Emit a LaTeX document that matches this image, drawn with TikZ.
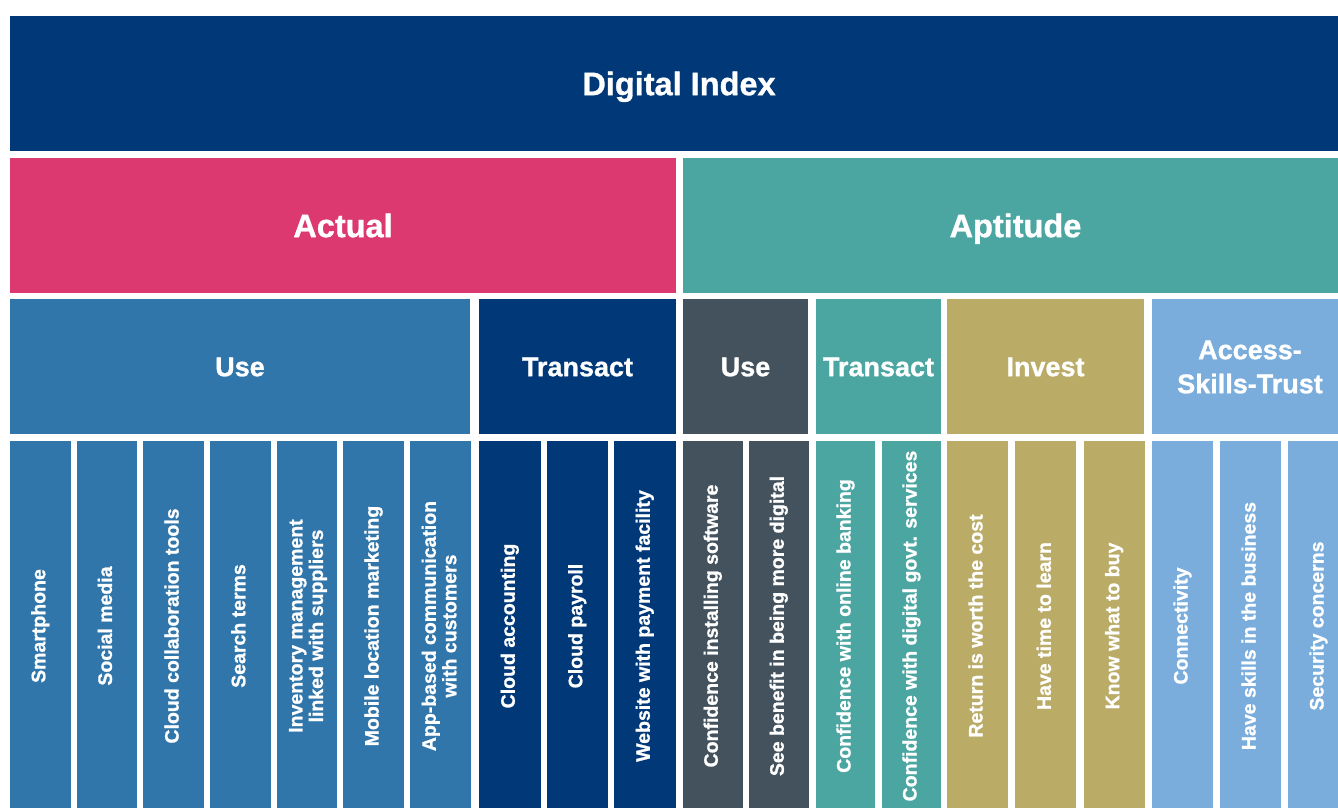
\documentclass[tikz,border=0pt]{standalone}
\usepackage{fontspec}
\setmainfont{Liberation Sans}[BoldFeatures={FakeBold=1}]
\usepackage{xcolor}
\usepackage{tikz}

\definecolor{navy}{RGB}{1,56,120}
\definecolor{pinkred}{RGB}{219,57,111}
\definecolor{teal}{RGB}{75,166,162}
\definecolor{useblue}{RGB}{48,118,170}
\definecolor{slate}{RGB}{68,82,93}
\definecolor{gold}{RGB}{186,171,102}
\definecolor{lightblue}{RGB}{122,173,220}

\tikzset{
  block/.style={inner sep=0pt,outer sep=0pt,text=white,align=center},
  big/.style={block,minimum height=135pt,text height=23.3pt,text depth=0pt,
    font=\bfseries\fontsize{32.5}{36}\selectfont},
  mid/.style={block,minimum height=135pt,text height=19.4pt,text depth=0pt,
    font=\bfseries\fontsize{27}{34}\selectfont},
  leaf/.style={block,rotate=90,minimum width=370pt,text height=14pt,text depth=4pt,
    font=\bfseries\fontsize{19.5}{20.5}\selectfont},
  twoline/.style={text height=35pt,text depth=3pt}
}

\begin{document}
\begin{tikzpicture}[x=1pt,y=-1pt]
\useasboundingbox (0,0) rectangle (1338,807);
\clip (0,0) rectangle (1338,807);

% Top level
\node[big,fill=navy,minimum width=1338pt] (index) at (679,83.5) {Digital Index};

% Actual / Aptitude
\node[big,fill=pinkred,minimum width=666pt] (actual) at (343,225.5) {Actual};
\node[big,fill=teal,minimum width=665pt] (aptitude) at (1015.5,225.5) {Aptitude};

% Sub groups
\node[mid,fill=useblue,minimum width=460pt] (acuse) at (240,366.5) {Use};
\node[mid,fill=navy,minimum width=197pt] (actrans) at (577.5,366.5) {Transact};
\node[mid,fill=slate,minimum width=125pt] (apuse) at (745.5,366.5) {Use};
\node[mid,fill=teal,minimum width=125pt] (aptrans) at (878.5,366.5) {Transact};
\node[mid,fill=gold,minimum width=197pt] (invest) at (1045.5,366.5) {Invest};
\node[mid,fill=lightblue,minimum width=196pt,text height=53.4pt] (ast) at (1250,366.5) {Access-\\Skills-Trust};

% Leaves
\foreach \i/\t in {0/Smartphone,1/Social media,2/Cloud collaboration tools,3/Search terms,
  5/Mobile location marketing}
  \node[leaf,fill=useblue,minimum height=60.5pt] (au\i) at ({40.25+\i*66.67},626) {\t};
\foreach \i/\t in {4/{Inventory management\\linked with suppliers},
  6/{App-based communication\\with customers}}
  \node[leaf,twoline,fill=useblue,minimum height=60.5pt] (au\i) at ({40.25+\i*66.67},626) {\t};

\foreach \i/\t in {0/Cloud accounting,1/Cloud payroll,2/Website with payment facility}
  \node[leaf,fill=navy,minimum height=61.5pt] (at\i) at ({509.75+\i*67.5},626) {\t};

\foreach \i/\t in {0/Confidence installing software,1/See benefit in being more digital}
  \node[leaf,fill=slate,minimum height=59.5pt] (pu\i) at ({712.75+\i*66},626) {\t};

\foreach \i/\t in {0/Confidence with online banking,1/Confidence with digital govt. services}
  \node[leaf,fill=teal,minimum height=59pt] (pt\i) at ({845.5+\i*66},626) {\t};

\foreach \i/\t in {0/Return is worth the cost,1/Have time to learn,2/Know what to buy}
  \node[leaf,fill=gold,minimum height=61pt] (pi\i) at ({977.5+\i*68.33},626) {\t};

\foreach \i/\t in {0/Connectivity,1/Have skills in the business,2/Security concerns}
  \node[leaf,fill=lightblue,minimum height=61pt] (pa\i) at ({1182.5+\i*68},626) {\t};
\end{tikzpicture}
\end{document}
